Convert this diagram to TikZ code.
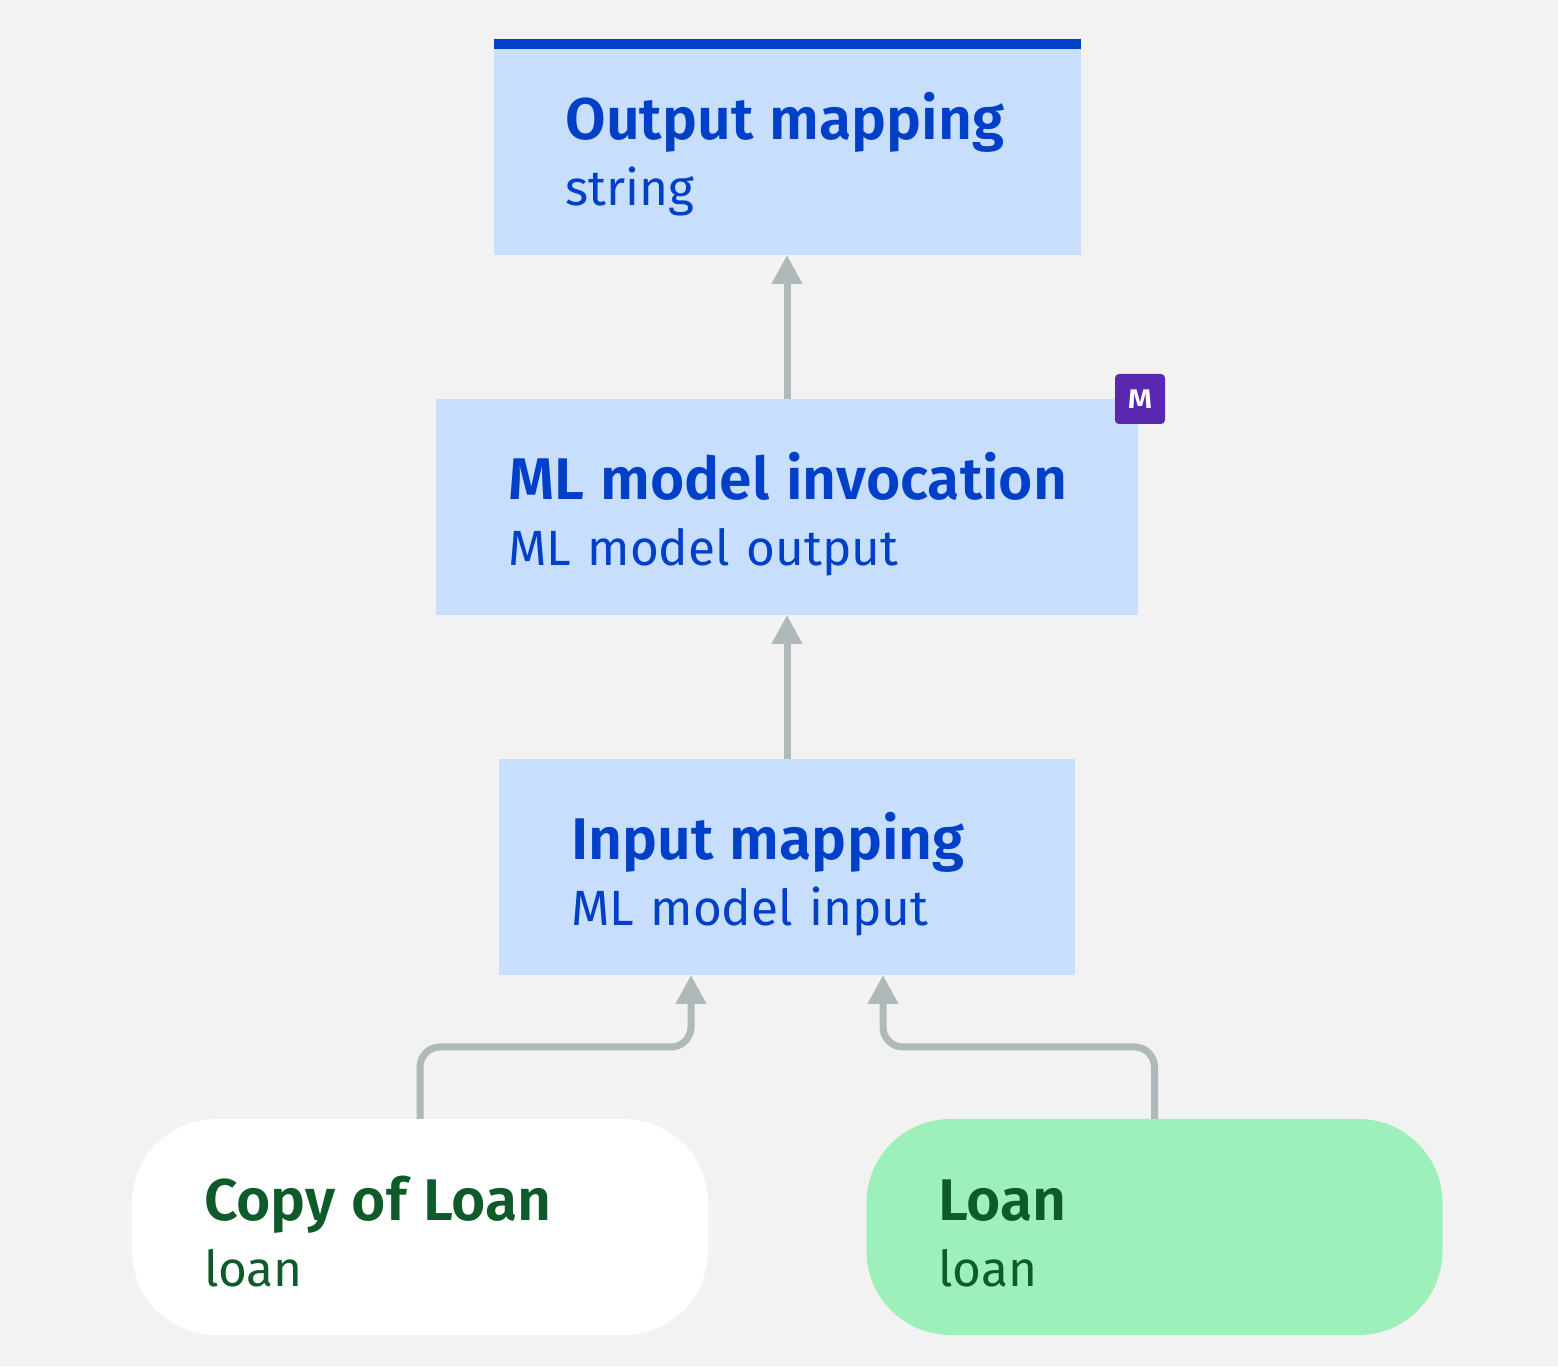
\documentclass[tikz,border=0pt]{standalone}
\usepackage{fontspec}
\setmainfont{Fira Sans}[BoldFont={Fira Sans SemiBold}]
\usetikzlibrary{positioning,arrows.meta}
\definecolor{pagegray}{HTML}{F2F2F2}
\definecolor{boxblue}{HTML}{C8DEFD}
\definecolor{textblue}{HTML}{003FC8}
\definecolor{textgreen}{HTML}{0E5A2A}
\definecolor{loangreen}{HTML}{9EF0BA}
\definecolor{linegray}{HTML}{AFB9B9}
\definecolor{badgepurple}{HTML}{5A28B0}
\newcommand{\boxtext}[2]{\rule{0pt}{90pt}{\fontsize{58.8pt}{67pt}\selectfont\bfseries\mbox{#1}}\\\rule[-38pt]{0pt}{38pt}#2}
\tikzset{
	boxfont/.style={font=\fontsize{49.5pt}{66pt}\selectfont},
	mapbox/.style={boxfont, fill=boxblue, text=textblue, minimum height=216pt, inner xsep=72pt, inner ysep=0pt, outer sep=0pt, align=left},
	pillbox/.style={boxfont, rounded corners=84pt, text=textgreen, minimum height=216pt, inner xsep=72pt, inner ysep=0pt, outer sep=0pt, text width=432pt, align=left},
	link/.style={draw=linegray, line width=7pt, -{Triangle[length=29pt,width=29pt]}}
}
\begin{document}
\begin{tikzpicture}[x=1pt, y=1pt, node distance=144pt, line join=round]
	\useasboundingbox[fill=pagegray] (0,0) rectangle (1558,1366);
	% mapping boxes, bottom to top
	\node[mapbox, text width=432pt] (input) at (787,499) {\boxtext{Input mapping}{ML model input}};
	\node[mapbox, text width=558pt, above=of input] (model) {\boxtext{ML model invocation}{ML model output}};
	\node[mapbox, text width=443pt, above=of model] (output) {\boxtext{Output mapping}{string}};
	\node[fill=textblue, inner sep=0pt, outer sep=0pt, minimum width=587pt, minimum height=10pt, anchor=north] (outbar) at (output.north) {};
	% badge on the model box
	\node[fill=badgepurple, rounded corners=4pt, minimum size=50pt, inner sep=0pt, text=white, font=\fontsize{27pt}{27pt}\selectfont\bfseries] (badge) at ([xshift=2pt]model.north east) {\scalebox{1.15}[1]{M}};
	% sources
	\node[pillbox, fill=white] (copy) at (420,139) {\boxtext{Copy of Loan}{loan}};
	\node[pillbox, fill=loangreen] (loan) at (1154.5,139) {\boxtext{Loan}{loan}};
	\coordinate (inleft) at ([xshift=-96pt]input.south);
	\coordinate (inright) at ([xshift=96pt]input.south);
	% connectors
	\draw[link] (input.north) -- (model.south);
	\draw[link] (model.north) -- (output.south);
	\draw[link, rounded corners=20pt] (copy.north) -- ++(0,72) -| (inleft);
	\draw[link, rounded corners=20pt] (loan.north) -- ++(0,72) -| (inright);
\end{tikzpicture}
\end{document}
